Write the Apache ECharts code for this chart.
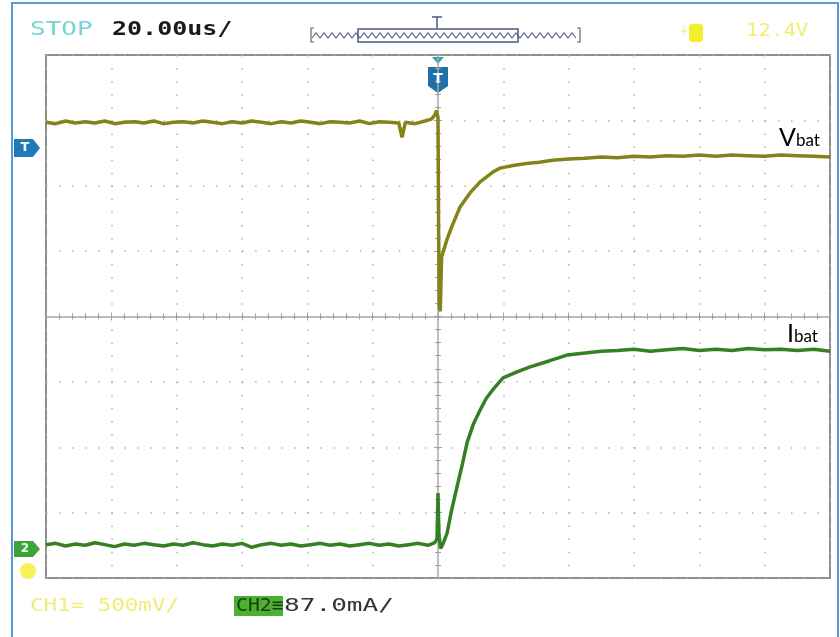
<!DOCTYPE html>
<html>
<head>
<meta charset="utf-8">
<script src="https://cdn.jsdelivr.net/npm/echarts@6/dist/echarts.min.js"></script>
<style>html,body{margin:0;padding:0;background:#fff;}#c{width:840px;height:637px;}</style>
</head>
<body>
<div id="c"></div>
<script>
// time in microseconds (20 us / div), values in divisions
const vbatTime = [-120,-117,-114,-111,-108,-105,-102,-99,-96,-93,-90,-87,-84,-81,-78,-75,-72,-69,-66,-63,-60,-57,-54,-51,-48,-45,-42,-39,-36,-33,-30,-27,-24,-21,-18,-15,-12,-11,-10,-7,-4,-2,-1,-0.5,0,0.2,0.4,0.7,1.1,2.7,4.2,6.7,9.8,12.9,16.8,19,23,27,31,35,40,45,50,55,60,65,70,75,80,85,90,95,100,105,110,115,120];
const vbatValue = [2.97,2.95,2.99,2.96,2.98,2.96,2.99,2.95,2.97,2.98,2.96,2.99,2.95,2.97,2.98,2.96,2.99,2.97,2.95,2.98,2.96,2.99,2.97,2.95,2.98,2.96,2.99,2.97,2.95,2.98,2.97,2.96,2.99,2.95,2.98,2.97,2.96,2.74,2.97,2.95,2.99,3.02,3.08,3.15,3.05,1.20,0.15,0.08,0.91,1.17,1.37,1.67,1.89,2.06,2.21,2.27,2.31,2.34,2.36,2.39,2.41,2.42,2.44,2.43,2.45,2.44,2.46,2.45,2.47,2.45,2.47,2.46,2.45,2.47,2.46,2.45,2.44];
const ibatTime = [-120,-117,-114,-111,-108,-105,-102,-99,-96,-93,-90,-87,-84,-81,-78,-75,-72,-69,-66,-63,-60,-57,-54,-51,-48,-45,-42,-39,-36,-33,-30,-27,-24,-21,-18,-15,-12,-9,-6,-3,-1,-0.3,0,0.3,0.8,1.5,2.8,4,5.8,7.5,8.9,10.8,12.9,14.8,16.8,19.9,24,28.2,34,39.5,45,50,55,60,65,70,75,80,85,90,95,100,105,110,115,120];
const ibatValue = [-3.49,-3.47,-3.51,-3.48,-3.50,-3.46,-3.49,-3.52,-3.48,-3.50,-3.47,-3.49,-3.51,-3.48,-3.50,-3.46,-3.49,-3.51,-3.48,-3.50,-3.47,-3.53,-3.49,-3.47,-3.50,-3.48,-3.51,-3.49,-3.47,-3.50,-3.48,-3.51,-3.49,-3.47,-3.50,-3.48,-3.51,-3.49,-3.47,-3.50,-3.46,-3.40,-2.70,-3.35,-3.55,-3.48,-3.31,-3.00,-2.61,-2.25,-1.93,-1.65,-1.43,-1.25,-1.12,-0.94,-0.85,-0.77,-0.68,-0.59,-0.56,-0.53,-0.52,-0.50,-0.53,-0.51,-0.49,-0.52,-0.50,-0.52,-0.49,-0.51,-0.50,-0.52,-0.50,-0.53];
const seriesNames = ['Vbat', 'Ibat'];
const timeAxis = {min: -120, max: 120, interval: 20};
const divAxis = {min: -4, max: 4, interval: 1};

const zip = (a, b) => a.map((t, i) => [t, b[i]]);

const chart = echarts.init(document.getElementById('c'), null, {renderer: 'canvas'});

const gridLine = {show: true, lineStyle: {color: '#b0b0b0', width: 1.5, type: [1.5, 11.57]}};
const tickStyle = {color: '#a0a0a0', width: 1};

const rich = {
  v: {fontFamily: 'Lato, "Open Sans", sans-serif', fontSize: 25, color: '#111'},
  s: {fontFamily: 'Lato, "Open Sans", sans-serif', fontSize: 17, color: '#111', padding: [6, 0, 0, 0]}
};

chart.setOption({
  animation: false,
  backgroundColor: '#fff',
  grid: {left: 46, top: 55, width: 784, height: 523, show: true, borderColor: '#8e8e8e', borderWidth: 2, backgroundColor: '#fff'},
  xAxis: [
    {type: 'value', min: timeAxis.min, max: timeAxis.max, interval: timeAxis.interval,
     axisLine: {show: true, onZero: true, lineStyle: {color: '#a8a8a8', width: 1.5}},
     axisTick: {show: true, inside: true, length: 4, lineStyle: tickStyle},
     minorTick: {show: true, splitNumber: 5, length: 3, lineStyle: tickStyle},
     axisLabel: {show: false}, splitLine: gridLine},
    {type: 'value', position: 'top', min: timeAxis.min, max: timeAxis.max, interval: timeAxis.interval,
     axisLine: {show: false}, axisTick: {show: true, inside: true, length: 4, lineStyle: tickStyle},
     minorTick: {show: true, splitNumber: 5, length: 3, lineStyle: tickStyle},
     axisLabel: {show: false}, splitLine: {show: false}}
  ],
  yAxis: [
    {type: 'value', min: divAxis.min, max: divAxis.max, interval: divAxis.interval,
     axisLine: {show: true, onZero: true, lineStyle: {color: '#a8a8a8', width: 1.5}},
     axisTick: {show: true, inside: true, length: 4, lineStyle: tickStyle},
     minorTick: {show: true, splitNumber: 5, length: 3, lineStyle: tickStyle},
     axisLabel: {show: false}, splitLine: gridLine},
    {type: 'value', position: 'right', min: divAxis.min, max: divAxis.max, interval: divAxis.interval,
     axisLine: {show: false}, axisTick: {show: true, inside: true, length: 4, lineStyle: tickStyle},
     minorTick: {show: true, splitNumber: 5, length: 3, lineStyle: tickStyle},
     axisLabel: {show: false}, splitLine: {show: false}}
  ],
  series: [
    {name: seriesNames[0], type: 'line', data: zip(vbatTime, vbatValue), showSymbol: false, symbol: 'none',
     lineStyle: {color: '#84821a', width: 3.5}, z: 5},
    {name: seriesNames[1], type: 'line', data: zip(ibatTime, ibatValue), showSymbol: false, symbol: 'none',
     lineStyle: {color: '#357f25', width: 3.5}, z: 5}
  ],
  graphic: [
    {type: 'rect', shape: {x: 12, y: 3, width: 826, height: 660}, style: {fill: 'none', stroke: '#5b9bd5', lineWidth: 2}, silent: true},
    {type: 'text', x: 30, y: 20, scaleX: 1.3, style: {text: 'STOP', font: '20px "DejaVu Sans Mono"', fill: '#74d4d6'}},
    {type: 'text', x: 112, y: 20, scaleX: 1.25, style: {text: '20.00us/', font: 'bold 20px "DejaVu Sans Mono"', fill: '#1a1a1a'}},
    // memory bar
    {type: 'polyline', shape: {points: [[314,28],[311,28],[311,42],[314,42]]}, style: {stroke: '#666', fill: 'none', lineWidth: 1.2}},
    {type: 'polyline', shape: {points: [[577,28],[580,28],[580,42],[577,42]]}, style: {stroke: '#666', fill: 'none', lineWidth: 1.2}},
    {type: 'polyline', shape: {points: (function(){const p=[];for(let x=312;x<=578;x+=4){p.push([x, (Math.round((x-312)/4)%2)?33:38]);}return p;})()}, style: {stroke: '#5a6a8a', fill: 'none', lineWidth: 1.2}},
    {type: 'rect', shape: {x: 358, y: 29, width: 160, height: 13}, style: {fill: 'none', stroke: '#4a5a80', lineWidth: 1.5}},
    {type: 'polyline', shape: {points: [[432,17],[442,17]]}, style: {stroke: '#4a5a80', lineWidth: 1.5}},
    {type: 'polyline', shape: {points: [[437,17],[437,28]]}, style: {stroke: '#4a5a80', lineWidth: 1.5}},
    // trigger icons
    {type: 'text', x: 680, y: 24, style: {text: '⍭', font: '14px "DejaVu Sans"', fill: '#f2ee66'}},
    {type: 'rect', shape: {x: 689, y: 24, width: 14, height: 18, r: 3}, style: {fill: '#f2ee2e'}},
    {type: 'text', x: 746, y: 22, scaleX: 1.15, style: {text: '12.4V', font: '18px "DejaVu Sans Mono"', fill: '#f2ee70'}},
    // top trigger marker
    {type: 'polygon', shape: {points: [[432,57],[444,57],[438,64]]}, style: {fill: '#2fa3b8'}},
    {type: 'polygon', shape: {points: [[428,67],[448,67],[448,86],[438,93],[428,86]]}, style: {fill: '#1f6fa8'}},
    {type: 'text', x: 438, y: 79, z: 10, style: {text: 'T', font: 'bold 14px "DejaVu Sans"', fill: '#fff', align: 'center', verticalAlign: 'middle'}},
    // left T marker
    {type: 'polygon', shape: {points: [[14,139],[33,139],[40,148],[33,157],[14,157]]}, style: {fill: '#1f7ab8'}},
    {type: 'text', x: 25, y: 148, style: {text: 'T', font: 'bold 13px "DejaVu Sans"', fill: '#fff', align: 'center', verticalAlign: 'middle'}},
    // left CH2 marker
    {type: 'polygon', shape: {points: [[14,541],[33,541],[40,549],[33,557],[14,557]]}, style: {fill: '#3ca43a'}},
    {type: 'text', x: 25, y: 549, style: {text: '2', font: 'bold 12px "DejaVu Sans"', fill: '#e8ffe0', align: 'center', verticalAlign: 'middle'}},
    {type: 'circle', shape: {cx: 28, cy: 571, r: 8}, style: {fill: '#f4ef3a', opacity: 0.85}},
    // bottom channel info
    {type: 'text', x: 30, y: 597, scaleX: 1.25, style: {text: 'CH1= 500mV/', font: '18px "DejaVu Sans Mono"', fill: '#f0ec78'}},
    {type: 'rect', shape: {x: 234, y: 596, width: 49, height: 20}, style: {fill: '#4cb030'}},
    {type: 'text', x: 236, y: 597, scaleX: 1.1, style: {text: 'CH2≡', font: '18px "DejaVu Sans Mono"', fill: '#1d3a10'}},
    {type: 'text', x: 284, y: 597, scaleX: 1.45, style: {text: '87.0mA/', font: '18px "DejaVu Sans Mono"', fill: '#333'}},
    // trace labels
    {type: 'text', x: 779, y: 150, style: {text: '{v|V}{s|bat}', rich: rich, verticalAlign: 'bottom'}},
    {type: 'text', x: 787, y: 346, style: {text: '{v|I}{s|bat}', rich: rich, verticalAlign: 'bottom'}}
  ]
});
</script>
</body>
</html>
